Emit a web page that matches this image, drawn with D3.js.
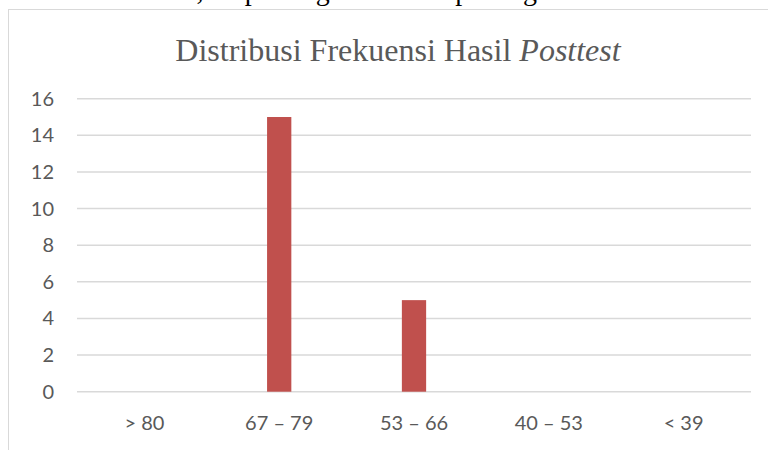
<!DOCTYPE html>
<html>
<head>
<meta charset="utf-8">
<script src="https://d3js.org/d3.v7.min.js"></script>
<style>
  body { margin: 0; background: #fff; }
  svg { display: block; }
</style>
</head>
<body>
<script>
  // frekuensi nilai posttest per kelas interval
  const categories = ['> 80', '67 – 79', '53 – 66', '40 – 53', '< 39'];
  const values = [0, 15, 5, 0, 0];
  const yTicks = [0, 2, 4, 6, 8, 10, 12, 14, 16];

  const width = 768;
  const height = 450;

  const svg = d3.select('body')
    .append('svg')
    .attr('width', width)
    .attr('height', height);

  // sisa baris teks dokumen di atas grafik (terpotong, hanya ekor huruf yang tampak)
  svg.append('text')
    .attr('x', 28)
    .attr('y', 0)
    .attr('font-family', 'Liberation Serif')
    .attr('font-size', '28px')
    .attr('word-spacing', '8px')
    .attr('fill', '#000')
    .text('nilai akhir tes, dapat digambarkan pada grafik berikut');

  // bingkai chart
  svg.append('rect')
    .attr('x', 8.5)
    .attr('y', 9.5)
    .attr('width', 800)
    .attr('height', 500)
    .attr('fill', 'none')
    .attr('stroke', '#d9d9d9')
    .attr('stroke-width', 1);

  const x = d3.scaleBand()
    .domain(categories)
    .range([77, 751])
    .paddingInner(0.82)
    .paddingOuter(0.41);

  const y = d3.scaleLinear()
    .domain([0, 16])
    .range([391.7, 98.7]);

  // garis grid
  svg.append('g')
    .selectAll('line')
    .data(yTicks)
    .enter()
    .append('line')
    .attr('x1', 77)
    .attr('x2', 751)
    .attr('y1', d => y(d))
    .attr('y2', d => y(d))
    .attr('stroke', '#d9d9d9')
    .attr('stroke-width', 1.5);

  // label sumbu y
  svg.append('g')
    .selectAll('text')
    .data(yTicks)
    .enter()
    .append('text')
    .attr('x', 54)
    .attr('y', d => y(d))
    .attr('dy', '0.35em')
    .attr('text-anchor', 'end')
    .attr('font-family', 'Lato, "Open Sans", sans-serif')
    .attr('font-size', '20px')
    .attr('fill', '#595959')
    .text(d => d);

  // batang
  svg.append('g')
    .selectAll('rect')
    .data(values)
    .enter()
    .append('rect')
    .attr('x', (d, i) => x(categories[i]))
    .attr('width', x.bandwidth())
    .attr('y', d => y(d))
    .attr('height', d => y(0) - y(d))
    .attr('fill', '#c0504d');

  // label sumbu x
  svg.append('g')
    .selectAll('text')
    .data(categories)
    .enter()
    .append('text')
    .attr('x', d => x(d) + x.bandwidth() / 2)
    .attr('y', 430)
    .attr('text-anchor', 'middle')
    .attr('font-family', 'Lato, "Open Sans", sans-serif')
    .attr('font-size', '20px')
    .attr('fill', '#595959')
    .text(d => d);

  // judul
  const title = svg.append('text')
    .attr('x', 398)
    .attr('y', 61)
    .attr('text-anchor', 'middle')
    .attr('font-family', 'Liberation Serif')
    .attr('font-size', '32px')
    .attr('fill', '#595959');
  title.append('tspan').text('Distribusi Frekuensi Hasil ');
  title.append('tspan').attr('font-style', 'italic').text('Posttest');
</script>
</body>
</html>
